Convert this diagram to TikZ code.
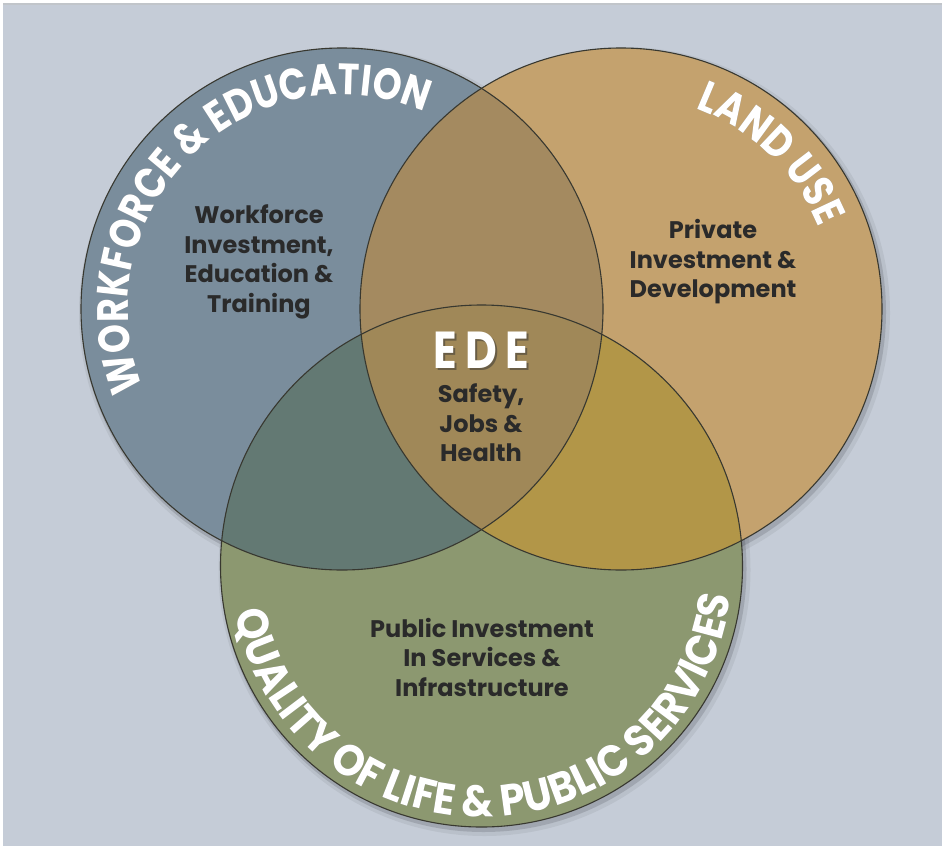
\documentclass[tikz,border=0pt]{standalone}
\usepackage{fontspec}
\setmainfont{Poppins}
\newfontfamily\narrowfam{Poppins}[FakeStretch=0.84]
\newfontfamily\narrowfamb{Poppins}[FakeStretch=0.92]
\usetikzlibrary{decorations.text}
\definecolor{bgc}{HTML}{C5CCD7}
\definecolor{cblue}{HTML}{7A8D9C}
\definecolor{corange}{HTML}{C4A26E}
\definecolor{cgreen}{HTML}{8C9870}
\definecolor{cbo}{HTML}{A48A60}
\definecolor{cbg}{HTML}{637973}
\definecolor{cog}{HTML}{B29648}
\definecolor{ccenter}{HTML}{A08858}
\definecolor{edgec}{HTML}{383830}
\definecolor{txt}{HTML}{2A2A2A}
\newcommand\curvefont{\narrowfam\fontsize{44}{44}\selectfont\bfseries}
\newcommand\curvefontb{\narrowfamb\fontsize{44}{44}\selectfont\bfseries}
\tikzset{
  edge/.style={draw=edgec, line width=1.1pt},
  csh/.style={fill=black, opacity=0.13},
  body/.style={font=\fontsize{24}{29.5}\selectfont\bfseries, text=txt, align=center, inner sep=0pt},
  edefont/.style={font=\narrowfam\fontsize{52}{52}\selectfont\bfseries\addfontfeature{LetterSpace=16}, inner sep=0pt},
  curvetext/.style={decorate, decoration={text along path, text align=center, text color=white, text={#1}}},
  curveshadow/.style={decorate, decoration={text along path, text align=center, text color=black!80, text={#1}}}
}
\begin{document}
\begin{tikzpicture}[x=1pt,y=1pt]
\useasboundingbox (0,0) rectangle (942,-846);
\fill[white] (0,0) rectangle (942,-846);
\fill[bgc] (3,-3) rectangle (942,-846);
\fill[black!25,opacity=0.5] (3,-3) rectangle (942,-5);
\coordinate (B) at (342,-309);
\coordinate (O) at (621,-309);
\coordinate (G) at (481.5,-566);
\def\R{261}
% shadows
\foreach \c in {B,O,G}{
  \fill[csh] ([shift={(2,-3)}]\c) circle[radius=\R+2];
  \fill[black,opacity=0.06] ([shift={(3,-4)}]\c) circle[radius=\R+5];
}
% base fills
\fill[cblue] (B) circle[radius=\R];
\fill[corange] (O) circle[radius=\R];
\fill[cgreen] (G) circle[radius=\R];
\begin{scope}
  \clip (O) circle[radius=\R];
  \fill[cog] (G) circle[radius=\R];
\end{scope}
\begin{scope}
  \clip (B) circle[radius=\R];
  \fill[cbo] (O) circle[radius=\R];
  \fill[cbg] (G) circle[radius=\R];
  \clip (O) circle[radius=\R];
  \fill[ccenter] (G) circle[radius=\R];
\end{scope}
% outlines
\draw[edge] (B) circle[radius=\R];
\draw[edge] (O) circle[radius=\R];
\draw[edge] (G) circle[radius=\R];
% curved labels: shadows
\begin{scope}[shift={(1.8,-1.8)}, opacity=0.5]
  \path[curveshadow={|\curvefont|WORKFORCE {\&} EDUCATION}] (B) ++(214.5:214) arc[start angle=214.5, end angle=54.5, radius=214];
  \path[curveshadow={|\curvefont|LAND USE}] (O) ++(86:214) arc[start angle=86, end angle=6, radius=214];
  \path[curveshadow={|\curvefontb|QUALITY OF LIFE {\&} PUBLIC SERVICES}] (G) ++(162:251) arc[start angle=162, end angle=382, radius=251];
\end{scope}
% curved labels
\path[curvetext={|\curvefont|WORKFORCE {\&} EDUCATION}] (B) ++(214.5:214) arc[start angle=214.5, end angle=54.5, radius=214];
\path[curvetext={|\curvefont|LAND USE}] (O) ++(86:214) arc[start angle=86, end angle=6, radius=214];
\path[curvetext={|\curvefontb|QUALITY OF LIFE {\&} PUBLIC SERVICES}] (G) ++(162:251) arc[start angle=162, end angle=382, radius=251];
% body texts
\node[body] (wf) at (259,-262) {Workforce\\Investment,\\Education \&\\Training};
\node[body] (pr) at (713,-262) {Private\\Investment \&\\Development};
\node[body] (pu) at (482,-657) {Public Investment\\In Services \&\\Infrastructure};
\node[body] (sa) at (481,-423) {Safety,\\Jobs \&\\Health};
\node[edefont, text=black!80, opacity=0.5] (edes) at (483,-352) {EDE};
\node[edefont, text=white] (ede) at (481,-350) {EDE};
\end{tikzpicture}
\end{document}
